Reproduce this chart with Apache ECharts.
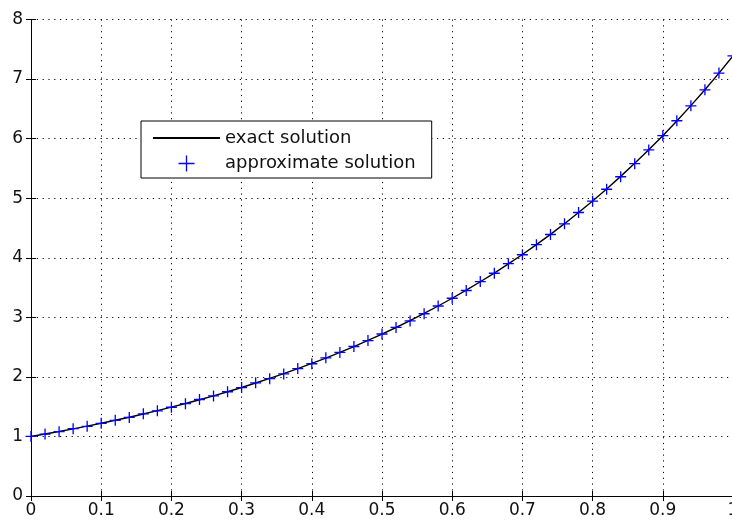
<!DOCTYPE html>
<html>
<head>
<meta charset="utf-8">
<script src="https://cdn.jsdelivr.net/npm/echarts@6/dist/echarts.min.js"></script>
<style>
html,body{margin:0;padding:0;background:#fff;}
#c{width:732px;height:524px;}
</style>
</head>
<body>
<div id="c"></div>
<script>
var xValues = [0,0.02,0.04,0.06,0.08,0.10,0.12,0.14,0.16,0.18,0.20,0.22,0.24,0.26,0.28,0.30,0.32,0.34,0.36,0.38,0.40,0.42,0.44,0.46,0.48,0.50,0.52,0.54,0.56,0.58,0.60,0.62,0.64,0.66,0.68,0.70,0.72,0.74,0.76,0.78,0.80,0.82,0.84,0.86,0.88,0.90,0.92,0.94,0.96,0.98,1.00];
var exactValues = [1.000,1.041,1.083,1.128,1.174,1.221,1.271,1.323,1.377,1.433,1.492,1.553,1.616,1.682,1.751,1.822,1.897,1.974,2.054,2.138,2.226,2.316,2.411,2.509,2.612,2.718,2.829,2.945,3.065,3.190,3.320,3.456,3.597,3.743,3.896,4.055,4.221,4.393,4.572,4.759,4.953,5.155,5.366,5.585,5.812,6.050,6.297,6.554,6.821,7.099,7.389];
var approxValues = [1.00,1.04,1.08,1.13,1.17,1.22,1.27,1.32,1.38,1.43,1.49,1.55,1.62,1.68,1.75,1.82,1.90,1.97,2.05,2.14,2.22,2.32,2.41,2.51,2.61,2.72,2.83,2.94,3.06,3.19,3.32,3.45,3.60,3.74,3.90,4.05,4.22,4.39,4.57,4.76,4.95,5.15,5.36,5.58,5.81,6.05,6.30,6.55,6.82,7.10,7.39];
var xTicks = [0,0.1,0.2,0.3,0.4,0.5,0.6,0.7,0.8,0.9,1];
var yTicks = [0,1,2,3,4,5,6,7,8];

var exactData = xValues.map(function(x,i){return [x, exactValues[i]];});
var approxData = xValues.map(function(x,i){return [x, approxValues[i]];});

var FONT = 'DejaVu Sans';
var plusPath = 'path://M0,5L10,5M5,0L5,10';
var gridLine = {show:true, lineStyle:{color:'#000', width:1, type:[1.2,4.6]}};

var chart = echarts.init(document.getElementById('c'), null, {renderer:'canvas'});
chart.setOption({
  backgroundColor:'#fff',
  animation:false,
  grid:{left:31, top:19.5, right:-1, bottom:28, containLabel:false, outerBoundsMode:'none'},
  xAxis:[{
    type:'value', min:0, max:1, interval:0.1,
    axisLine:{show:true, onZero:false, lineStyle:{color:'#000', width:1}},
    axisTick:{show:true, inside:true, length:5, lineStyle:{color:'#000'}},
    axisLabel:{show:true, color:'#111', fontFamily:FONT, fontSize:17, margin:6,
      showMinLabel:true, showMaxLabel:true, hideOverlap:false,
      formatter:function(v){ var t = xTicks.filter(function(k){return Math.abs(k-v)<1e-9;}); return t.length ? String(t[0]) : ''; }},
    splitLine:gridLine
  },{
    type:'value', position:'top', min:0, max:1, interval:0.1,
    axisLine:{show:true, lineStyle:{color:'#000', width:1}},
    axisTick:{show:true, inside:true, length:5, lineStyle:{color:'#000'}},
    axisLabel:{show:false}, splitLine:{show:false}
  }],
  yAxis:[{
    type:'value', min:0, max:8, interval:1,
    axisLine:{show:true, onZero:false, lineStyle:{color:'#000', width:1}},
    axisTick:{show:true, inside:true, length:5, lineStyle:{color:'#000'}},
    axisLabel:{show:true, color:'#111', fontFamily:FONT, fontSize:17, margin:8,
      formatter:function(v){ var t = yTicks.filter(function(k){return Math.abs(k-v)<1e-9;}); return t.length ? String(t[0]) : ''; }},
    splitLine:gridLine
  },{
    type:'value', position:'right', min:0, max:8, interval:1,
    axisLine:{show:true, lineStyle:{color:'#000', width:1}},
    axisTick:{show:true, inside:true, length:5, lineStyle:{color:'#000'}},
    axisLabel:{show:false}, splitLine:{show:false}
  }],
  legend:{
    orient:'vertical', left:141, top:121,
    padding:[8,16,4,11],
    itemWidth:67, itemHeight:16, itemGap:6,
    backgroundColor:'#fff', borderColor:'#000', borderWidth:1,
    textStyle:{fontFamily:FONT, fontSize:18, lineHeight:18, color:'#111'},
    data:[
      {name:'exact solution', itemStyle:{color:'transparent', borderColor:'transparent', borderWidth:0}},
      {name:'approximate solution', icon:plusPath, itemStyle:{color:'none', borderColor:'#0000ff', borderWidth:1.3}}
    ]
  },
  series:[{
    name:'exact solution', type:'line', data:exactData,
    symbol:'none', showSymbol:false,
    lineStyle:{color:'#000', width:1.4},
    itemStyle:{color:'#000'},
    z:2
  },{
    name:'approximate solution', type:'scatter', data:approxData,
    symbol:plusPath, symbolSize:11,
    itemStyle:{color:'none', borderColor:'#0000ff', borderWidth:1.3, opacity:1},
    z:3
  }]
});
</script>
</body>
</html>
